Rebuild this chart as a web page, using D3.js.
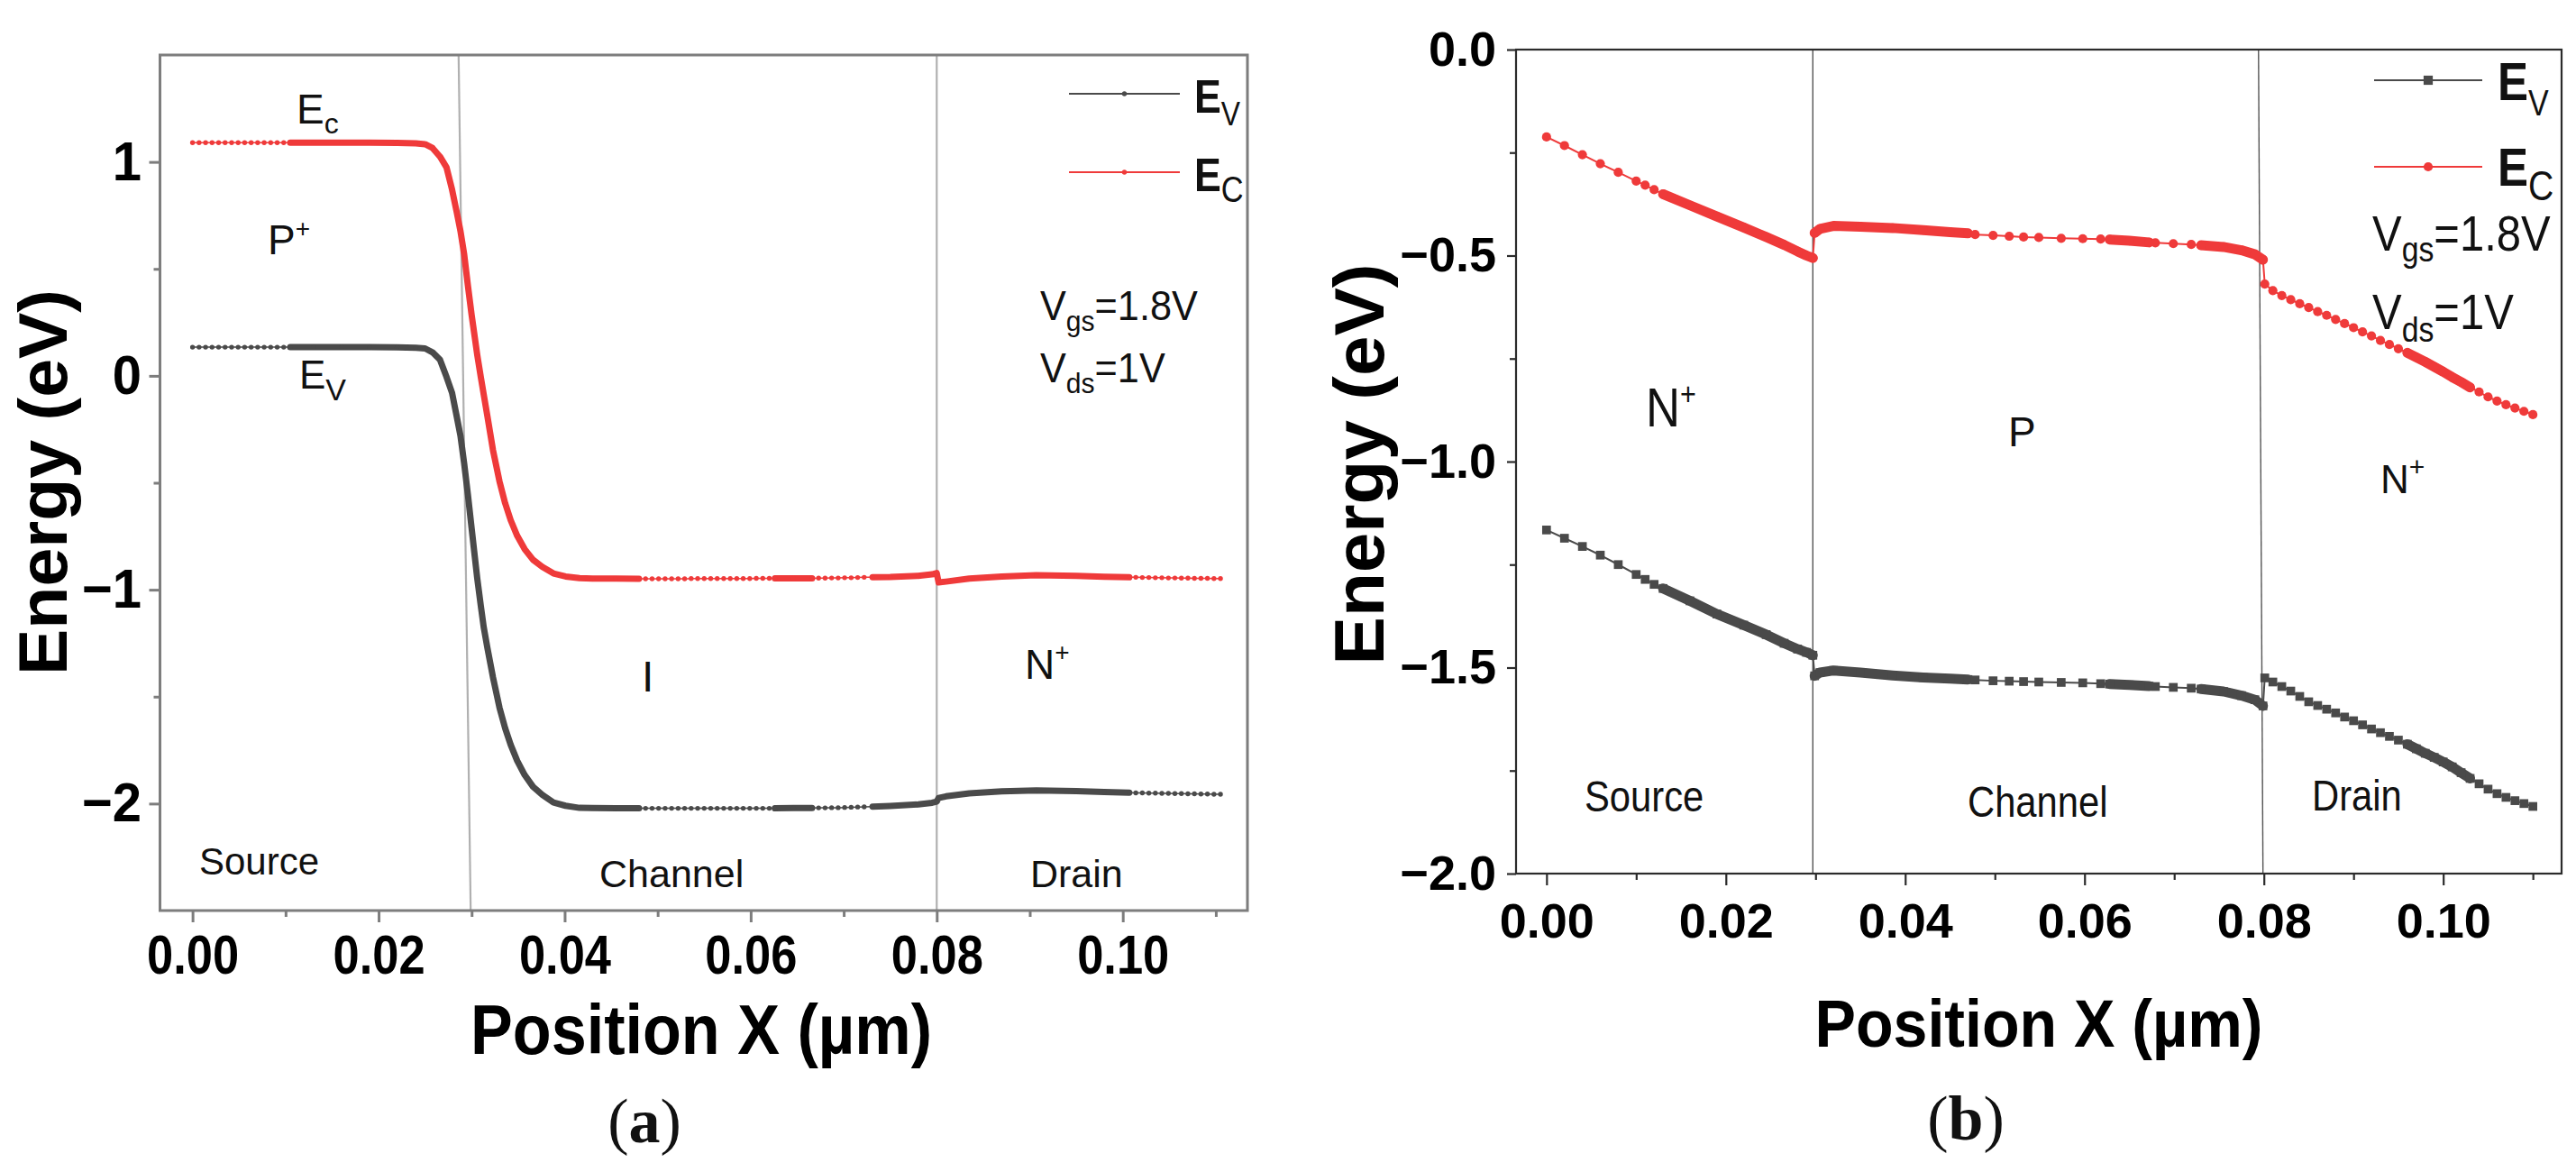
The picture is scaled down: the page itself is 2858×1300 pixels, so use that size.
<!DOCTYPE html>
<html>
<head>
<meta charset="utf-8">
<script src="https://cdn.jsdelivr.net/npm/d3@7"></script>
<style>
  html, body { margin: 0; background: #fff; }
  svg { display: block; }
</style>
</head>
<body>
<svg id="chart"></svg>
<script>
// ---- data ----
// (a) mesh positions (um) and band edges (eV)
const xA = [0, 0.0007, 0.0014, 0.0021, 0.0028, 0.0035, 0.0042, 0.0049, 0.0056, 0.0063, 0.0070, 0.0077, 0.0084, 0.0091, 0.0098, 0.0105,
  0.013, 0.016, 0.019, 0.022, 0.024, 0.025,
  0.0258, 0.0266, 0.0273, 0.0279, 0.0284, 0.0288, 0.0292, 0.0296, 0.0300, 0.0303, 0.0306, 0.0310, 0.0313, 0.0317,
  0.0323, 0.0330, 0.0336, 0.0342, 0.0349, 0.0357, 0.0366, 0.0376, 0.0388, 0.0401, 0.0416, 0.0430, 0.0455, 0.0480,
  0.0487, 0.0494, 0.0501, 0.0508, 0.0515, 0.0522, 0.0529, 0.0536, 0.0543, 0.0550, 0.0557, 0.0564, 0.0571, 0.0578,
  0.0585, 0.0592, 0.0599, 0.0606, 0.0613, 0.0620, 0.0626,
  0.0646, 0.0666,
  0.0673, 0.0680, 0.0687, 0.0694, 0.0701, 0.0708, 0.0715, 0.0722, 0.0731,
  0.0750, 0.0780, 0.0795, 0.0800, 0.0802, 0.0810, 0.0835, 0.0870, 0.0907, 0.0950, 0.0980, 0.1007,
  0.1014, 0.1021, 0.1028, 0.1035, 0.1042, 0.1049, 0.1056, 0.1063, 0.1070, 0.1077, 0.1084, 0.1091, 0.1098, 0.1105];
const ecA = [1.09, 1.09, 1.09, 1.09, 1.09, 1.09, 1.09, 1.09, 1.09, 1.09, 1.09, 1.09, 1.09, 1.09, 1.09, 1.09,
  1.09, 1.09, 1.09, 1.089, 1.087, 1.083,
  1.065, 1.025, 0.975, 0.87, 0.765, 0.677, 0.568, 0.422, 0.285, 0.192, 0.099, -0.009, -0.087, -0.19,
  -0.348, -0.494, -0.595, -0.675, -0.748, -0.81, -0.86, -0.893, -0.924, -0.938, -0.946, -0.948, -0.948, -0.949,
  -0.949, -0.949, -0.949, -0.949, -0.949, -0.949, -0.949, -0.948, -0.948, -0.948, -0.948, -0.948, -0.948, -0.948,
  -0.948, -0.948, -0.948, -0.947, -0.947, -0.947, -0.947,
  -0.947, -0.947,
  -0.946, -0.946, -0.945, -0.945, -0.944, -0.944, -0.943, -0.942, -0.941,
  -0.940, -0.935, -0.928, -0.922, -0.966, -0.962, -0.948, -0.938, -0.932, -0.935, -0.939, -0.942,
  -0.942, -0.943, -0.943, -0.944, -0.944, -0.945, -0.945, -0.946, -0.946, -0.947, -0.947, -0.947, -0.948, -0.948];
const evA = [0.134, 0.134, 0.134, 0.134, 0.134, 0.134, 0.134, 0.134, 0.134, 0.134, 0.134, 0.134, 0.134, 0.134, 0.134, 0.134,
  0.134, 0.134, 0.134, 0.133, 0.131, 0.128,
  0.11, 0.075, -0.005, -0.08, -0.19, -0.28, -0.41, -0.555, -0.712, -0.829, -0.945, -1.079, -1.175, -1.273,
  -1.41, -1.552, -1.647, -1.725, -1.80, -1.866, -1.921, -1.959, -1.995, -2.01, -2.02, -2.021, -2.022, -2.022,
  -2.022, -2.022, -2.022, -2.022, -2.022, -2.022, -2.022, -2.022, -2.022, -2.022, -2.022, -2.022, -2.022, -2.022,
  -2.022, -2.022, -2.022, -2.022, -2.022, -2.022, -2.022,
  -2.021, -2.021,
  -2.020, -2.020, -2.019, -2.019, -2.018, -2.017, -2.016, -2.015, -2.014,
  -2.011, -2.004, -1.996, -1.990, -1.974, -1.966, -1.952, -1.943, -1.938, -1.942, -1.946, -1.949,
  -1.950, -1.950, -1.951, -1.951, -1.952, -1.952, -1.953, -1.953, -1.954, -1.954, -1.955, -1.955, -1.956, -1.956];

// (b)
const xB = [0, 0.002, 0.004, 0.006, 0.008, 0.010, 0.011, 0.012, 0.013,
  0.016, 0.019, 0.022, 0.0245, 0.0265, 0.028, 0.029, 0.0297,
  0.0299, 0.0305, 0.032, 0.035, 0.0386, 0.042, 0.045, 0.047,
  0.0478, 0.0498, 0.0516, 0.0532, 0.0549, 0.0574, 0.0598, 0.0618,
  0.0628, 0.0650, 0.0672,
  0.0679, 0.0699, 0.0719,
  0.0730, 0.0755, 0.0775, 0.0790, 0.0799,
  0.0801,
  0.081, 0.082, 0.083, 0.084, 0.085, 0.086, 0.087, 0.088, 0.089, 0.090,
  0.091, 0.092, 0.093, 0.094, 0.095, 0.096, 0.097, 0.098, 0.099, 0.100,
  0.101, 0.102, 0.103, 0.104, 0.105, 0.106, 0.107, 0.108, 0.109, 0.110];
const ecB = [-0.212, -0.233, -0.255, -0.277, -0.298, -0.319, -0.329, -0.340, -0.351,
  -0.378, -0.405, -0.432, -0.455, -0.474, -0.490, -0.500, -0.506,
  -0.445, -0.435, -0.428, -0.430, -0.433, -0.438, -0.443, -0.446,
  -0.449, -0.451, -0.453, -0.455, -0.456, -0.458, -0.459, -0.460,
  -0.461, -0.464, -0.468,
  -0.469, -0.471, -0.473,
  -0.475, -0.479, -0.487, -0.497, -0.510,
  -0.569,
  -0.585, -0.597, -0.607, -0.617, -0.626, -0.636, -0.645, -0.655, -0.665, -0.675,
  -0.685, -0.695, -0.706, -0.716, -0.726, -0.736, -0.747, -0.758, -0.770, -0.782,
  -0.795, -0.807, -0.820, -0.831, -0.843, -0.853, -0.862, -0.870, -0.878, -0.886];
const evB = [-1.166, -1.186, -1.206, -1.227, -1.250, -1.274, -1.286, -1.298, -1.308,
  -1.338, -1.370, -1.397, -1.420, -1.441, -1.455, -1.463, -1.470,
  -1.520, -1.512, -1.507, -1.512, -1.519, -1.524, -1.527, -1.529,
  -1.530, -1.532, -1.533, -1.534, -1.535, -1.536, -1.537, -1.539,
  -1.540, -1.542, -1.545,
  -1.546, -1.548, -1.550,
  -1.552, -1.558, -1.568, -1.578, -1.593,
  -1.525,
  -1.535, -1.546, -1.557, -1.570, -1.583, -1.592, -1.601, -1.610, -1.620, -1.629,
  -1.639, -1.649, -1.658, -1.667, -1.676, -1.686, -1.697, -1.708, -1.718, -1.729,
  -1.741, -1.755, -1.769, -1.782, -1.795, -1.806, -1.815, -1.823, -1.830, -1.837];

const xMajor = [0, 0.02, 0.04, 0.06, 0.08, 0.10];
const xMinor = [0.01, 0.03, 0.05, 0.07, 0.09, 0.11];
const yMajorA = [1, 0, -1, -2];
const yMinorA = [0.5, -0.5, -1.5];
const yMajorB = [0, -0.5, -1, -1.5, -2];
const yMinorB = [-0.25, -0.75, -1.25, -1.75];
// region boundaries drawn as thin lines: [x at top, x at bottom]
const boundsA = [[0.0286, 0.0299], [0.08, 0.08]];
const boundsB = [[0.0297, 0.0297], [0.0794, 0.0799]];
// stretches where the mesh points are packed into a solid band
const denseA = [[0.0105, 0.048], [0.0626, 0.0666], [0.0731, 0.1007]];
const denseB = [[0.013, 0.0297], [0.0299, 0.047], [0.0628, 0.0672], [0.073, 0.0799], [0.096, 0.1035]];

// ---- drawing ----
const SANS = "'Liberation Sans', Arial, Helvetica, sans-serif";
const SERIF = "'Liberation Serif', 'Times New Roman', serif";
const RED = "#ef3a3a";
const GREY = "#4a4a4a";

const svg = d3.select("#chart").attr("width", 2858).attr("height", 1300);

function richText(parent, x, y, segs, o) {
  const t = parent.append("text")
    .attr("transform", `translate(${x},${y}) scale(${o.sx || 1},1)`)
    .attr("font-family", o.family || SANS)
    .attr("font-size", o.size)
    .attr("text-anchor", o.anchor || "start")
    .attr("fill", "#111");
  let cur = 0;
  segs.forEach(([txt, kind, weight]) => {
    const off = kind === "sub" ? o.sub : kind === "sup" ? -o.sup : 0;
    t.append("tspan")
      .attr("dy", off - cur)
      .attr("font-size", kind ? o.small : null)
      .attr("font-weight", weight || o.weight || null)
      .text(txt);
    cur = off;
  });
  return t;
}

function panel(p) {
  const g = svg.append("g");
  const x = d3.scaleLinear().domain(p.xDomain).range([p.box.l, p.box.r]);
  const y = d3.scaleLinear().domain(p.yDomain).range([p.box.b, p.box.t]);

  // axes
  const gx = g.append("g").attr("transform", `translate(0,${p.box.b})`)
    .call(d3.axisBottom(x).tickValues(xMajor).tickFormat(d3.format(".2f")).tickSize(13).tickPadding(p.xPad));
  g.append("g").attr("transform", `translate(0,${p.box.b})`)
    .call(d3.axisBottom(x).tickValues(xMinor).tickFormat("").tickSize(7));
  const gy = g.append("g").attr("transform", `translate(${p.box.l},0)`)
    .call(d3.axisLeft(y).tickValues(p.yMajor).tickFormat(d3.format(p.yFmt)).tickSize(p.yTick).tickPadding(p.yPad));
  g.append("g").attr("transform", `translate(${p.box.l},0)`)
    .call(d3.axisLeft(y).tickValues(p.yMinor).tickFormat("").tickSize(7));
  g.selectAll(".domain").remove();
  g.selectAll(".tick line").attr("stroke", p.frame).attr("stroke-width", p.frameW);
  [gx, gy].forEach(a => a.attr("font-family", SANS).attr("font-weight", "bold").attr("font-size", p.tickSize));
  gx.selectAll("text").attr("fill", "#000").attr("transform", `scale(${p.xSx},1)`);
  gy.selectAll("text").attr("fill", "#000").attr("transform", `scale(${p.ySx},1)`)
    .attr("x", -(p.yTick + p.yPad) / p.ySx);

  // region boundaries
  g.append("g").selectAll("line").data(p.bounds).join("line")
    .attr("x1", d => x(d[0])).attr("x2", d => x(d[1]))
    .attr("y1", p.box.t).attr("y2", p.box.b)
    .attr("stroke", p.boundColor).attr("stroke-width", p.boundW);

  // frame
  g.append("rect")
    .attr("x", p.box.l).attr("y", p.box.t)
    .attr("width", p.box.r - p.box.l).attr("height", p.box.b - p.box.t)
    .attr("fill", "none").attr("stroke", p.frame).attr("stroke-width", p.frameW);

  // series
  const line = d3.line().x(d => x(d.x)).y(d => y(d.y));
  [[p.ev, GREY, p.evMarker], [p.ec, RED, "circle"]].forEach(([vals, color, marker]) => {
    const pts = p.xs.map((v, i) => ({x: v, y: vals[i]}));
    const s = g.append("g");
    s.append("path").attr("d", line(pts))
      .attr("fill", "none").attr("stroke", color).attr("stroke-width", p.lineW);
    p.dense.forEach(([a, b]) => {
      s.append("path").attr("d", line(pts.filter(d => d.x >= a && d.x <= b)))
        .attr("fill", "none").attr("stroke", color).attr("stroke-width", p.bandW)
        .attr("stroke-linecap", "round").attr("stroke-linejoin", "round");
    });
    if (marker === "circle") {
      s.selectAll("circle").data(pts).join("circle")
        .attr("cx", d => x(d.x)).attr("cy", d => y(d.y)).attr("r", p.markR).attr("fill", color);
    } else {
      s.selectAll("rect").data(pts).join("rect")
        .attr("x", d => x(d.x) - p.markR * 0.95).attr("y", d => y(d.y) - p.markR * 0.95)
        .attr("width", p.markR * 1.9).attr("height", p.markR * 1.9).attr("fill", color);
    }
  });

  // legend
  p.legend.forEach((L, i) => {
    const color = i === 0 ? GREY : RED;
    const lg = g.append("g");
    lg.append("line").attr("x1", L.x0).attr("x2", L.x1).attr("y1", L.y).attr("y2", L.y)
      .attr("stroke", color).attr("stroke-width", p.legendW);
    const mx = (L.x0 + L.x1) / 2;
    if (i === 0 && p.evMarker === "square") {
      lg.append("rect").attr("x", mx - p.markR).attr("y", L.y - p.markR)
        .attr("width", p.markR * 2).attr("height", p.markR * 2).attr("fill", color);
    } else {
      lg.append("circle").attr("cx", mx).attr("cy", L.y).attr("r", p.markR).attr("fill", color);
    }
    richText(lg, L.tx, L.ty, [["E", null, "bold"], [L.sub, "sub", "normal"]], L.font);
  });

  // axis titles
  g.append("text")
    .attr("transform", `translate(${p.yTitle.x},${p.yTitle.y}) rotate(-90)`)
    .attr("text-anchor", "middle").attr("font-family", SANS).attr("font-weight", "bold")
    .attr("font-size", p.yTitle.size).attr("textLength", p.yTitle.len).attr("lengthAdjust", "spacingAndGlyphs")
    .text("Energy (eV)");
  g.append("text")
    .attr("x", p.xTitle.x).attr("y", p.xTitle.y)
    .attr("text-anchor", "middle").attr("font-family", SANS).attr("font-weight", "bold")
    .attr("font-size", p.xTitle.size).attr("textLength", p.xTitle.len).attr("lengthAdjust", "spacingAndGlyphs")
    .text("Position X (\u00b5m)");

  // panel letter
  richText(g, p.letter.x, p.letter.y, [["("], [p.id, null, "bold"], [")"]],
    {family: SERIF, size: 70, anchor: "middle"});

  // annotations
  p.notes.forEach(n => richText(g, n.x, n.y, n.segs, n.o));
}

panel({
  id: "a", xs: xA, ec: ecA, ev: evA,
  box: {l: 177.5, r: 1384, t: 61, b: 1010},
  xDomain: [-0.0035, 0.1134], yDomain: [-2.5, 1.5],
  yMajor: yMajorA, yMinor: yMinorA, yFmt: "d",
  bounds: boundsA, dense: denseA,
  frame: "#7d7d7d", frameW: 3, boundColor: "#b0b0b0", boundW: 2.2,
  tickSize: 61, xPad: 14, xSx: 0.86, yTick: 12, yPad: 8.5, ySx: 0.95,
  lineW: 1.5, bandW: 7, markR: 2.7, evMarker: "circle", legendW: 1.8,
  legend: [
    {x0: 1186, x1: 1309, y: 104, tx: 1325, ty: 125, sub: "V", font: {size: 52, small: 37, sub: 14, sx: 0.86}},
    {x0: 1186, x1: 1309, y: 191, tx: 1325, ty: 212, sub: "C", font: {size: 52, small: 40, sub: 12, sx: 0.86}}
  ],
  yTitle: {x: 74, y: 535, size: 76, len: 428},
  xTitle: {x: 778, y: 1169, size: 78, len: 512},
  letter: {x: 715, y: 1267},
  notes: [
    {x: 329, y: 137, segs: [["E"], ["c", "sub"]], o: {size: 46, small: 32, sub: 11}},
    {x: 297, y: 282, segs: [["P"], ["+", "sup"]], o: {size: 46, small: 28, sup: 19}},
    {x: 332, y: 431, segs: [["E"], ["V", "sub"]], o: {size: 44, small: 34, sub: 13}},
    {x: 712, y: 767, segs: [["I"]], o: {size: 48}},
    {x: 1137, y: 753, segs: [["N"], ["+", "sup"]], o: {size: 46, small: 28, sup: 20}},
    {x: 221, y: 970, segs: [["Source"]], o: {size: 42}},
    {x: 665, y: 984, segs: [["Channel"]], o: {size: 43}},
    {x: 1143, y: 984, segs: [["Drain"]], o: {size: 43}},
    {x: 1154, y: 355, segs: [["V"], ["gs", "sub"], ["=1.8V"]], o: {size: 46, small: 32, sub: 12, sx: 0.94}},
    {x: 1154, y: 424, segs: [["V"], ["ds", "sub"], ["=1V"]], o: {size: 46, small: 32, sub: 12, sx: 0.94}}
  ]
});

panel({
  id: "b", xs: xB, ec: ecB, ev: evB,
  box: {l: 1682, r: 2842, t: 55, b: 969},
  xDomain: [-0.0034, 0.1132], yDomain: [-2, 0],
  yMajor: yMajorB, yMinor: yMinorB, yFmt: ".1f",
  bounds: boundsB, dense: denseB,
  frame: "#2b2b2b", frameW: 2.2, boundColor: "#555", boundW: 1.4,
  tickSize: 54, xPad: 20, xSx: 1, yTick: 10, yPad: 12, ySx: 1,
  lineW: 2, bandW: 11, markR: 5.1, evMarker: "square", legendW: 2,
  legend: [
    {x0: 2634, x1: 2754, y: 89, tx: 2771, ty: 111, sub: "V", font: {size: 60, small: 40, sub: 17, sx: 0.85}},
    {x0: 2634, x1: 2754, y: 185, tx: 2771, ty: 206, sub: "C", font: {size: 60, small: 46, sub: 16, sx: 0.85}}
  ],
  yTitle: {x: 1535, y: 515, size: 78, len: 445},
  xTitle: {x: 2262, y: 1161, size: 75, len: 497},
  letter: {x: 2181, y: 1264},
  notes: [
    {x: 1826, y: 473, segs: [["N"], ["+", "sup"]], o: {size: 62, small: 36, sup: 24, sx: 0.85}},
    {x: 2228, y: 495, segs: [["P"]], o: {size: 46}},
    {x: 2641, y: 547, segs: [["N"], ["+", "sup"]], o: {size: 44, small: 30, sup: 19}},
    {x: 1758, y: 900, segs: [["Source"]], o: {size: 48, sx: 0.87}},
    {x: 2183, y: 906, segs: [["Channel"]], o: {size: 48, sx: 0.87}},
    {x: 2565, y: 899, segs: [["Drain"]], o: {size: 48, sx: 0.87}},
    {x: 2632, y: 278, segs: [["V"], ["gs", "sub"], ["=1.8V"]], o: {size: 55, small: 38, sub: 12, sx: 0.89}},
    {x: 2632, y: 365, segs: [["V"], ["ds", "sub"], ["=1V"]], o: {size: 55, small: 38, sub: 14, sx: 0.89}}
  ]
});
</script>
</body>
</html>
